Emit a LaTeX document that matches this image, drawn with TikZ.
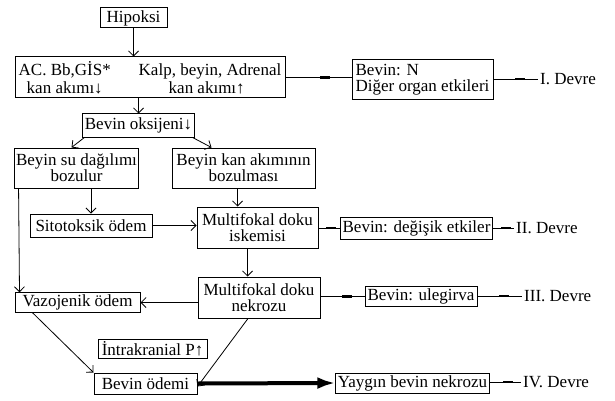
\documentclass[tikz,border=0pt]{standalone}
\usepackage{fontspec}
\setmainfont{Liberation Serif}
\usetikzlibrary{arrows.meta,decorations.markings}

\begin{document}
\begin{tikzpicture}[x=1pt, y=-1pt,
  font=\fontsize{17}{16}\selectfont,
  box/.style={draw, line width=1pt, inner sep=2pt, align=center},
  arr/.style={-{Straight Barb[length=5pt,width=10pt]}, line width=0.8pt},
  devline/.style={line width=0.8pt, postaction={decorate, decoration={markings,
    mark=at position 0.6 with {\fill (-5pt,-1.3pt) rectangle (5pt,1.3pt);}}}},
  devre/.style={inner sep=2pt, anchor=west}]
\useasboundingbox (0,0) rectangle (615,401);

\node[box, minimum width=67pt, minimum height=20pt] (hip) at (133.5,18) {Hipoksi};
\node[box, align=left, minimum width=270pt, minimum height=41pt, inner sep=1pt] (ac) at (150,77.5)
  {\makebox[120pt][l]{AC. Bb,GİS*}Kalp, beyin, Adrenal\\[2pt]
   \hspace{8pt}\makebox[112pt][l]{kan akımı↓}\hspace{30pt}kan akımı↑};
\node[box, align=left, minimum width=141pt, minimum height=40pt] (bn) at (422.5,80) {Bevin: N\\Diğer organ etkileri};
\node[devre] (dev1) at (538,79) {I. Devre};

\node[box, minimum width=105pt, minimum height=23pt] (oks) at (138.5,125.5) {Bevin oksijeni↓};
\node[box, minimum width=123pt, minimum height=40pt] (su) at (76.5,168) {Beyin su dağılımı\\bozulur};
\node[box, minimum width=143pt, minimum height=40pt] (kan) at (243.5,168) {Beyin kan akımının\\bozulması};
\node[box, minimum width=122pt, minimum height=23pt] (sito) at (91,225.5) {Sitotoksik ödem};
\node[box, minimum width=121pt, minimum height=41pt] (isk) at (257.5,227.5) {Multifokal doku\\iskemisi};
\node[box, minimum width=137pt, minimum height=22pt] (deg) at (416.5,228) {Bevin: değişik etkiler};
\node[devre] (dev2) at (514,228) {II. Devre};

\node[box, minimum width=122pt, minimum height=41pt] (nek) at (259,297.5) {Multifokal doku\\nekrozu};
\node[box, minimum width=125pt, minimum height=19pt] (vaz) at (77.5,302.5) {Vazojenik ödem};
\node[box, minimum width=112pt, minimum height=19pt] (ule) at (421,296.5) {Bevin: ulegirva};
\node[devre] (dev3) at (522,296) {III. Devre};

\node[box, minimum width=109pt, minimum height=19pt] (int) at (152.5,348.5) {İntrakranial P↑};
\node[box, minimum width=103pt, minimum height=21pt] (ode) at (145.5,383.5) {Bevin ödemi};
\node[box, minimum width=145pt, minimum height=20pt] (yay) at (412.5,383) {Yaygın bevin nekrozu};
\node[devre] (dev4) at (521,382) {IV. Devre};

\draw[arr] (hip.south) -- (hip.south |- ac.north);
\draw[devline] (ac.east) -- (ac.east -| bn.west);
\draw[devline] (bn.east |- dev1) -- (dev1.west);
\draw[arr] (ac.south -| oks.north) -- (oks.north);
\draw[arr] ([xshift=2pt]oks.south west) -- ([xshift=-5pt]su.north);
\draw[arr] ([xshift=-2pt]oks.south east) -- ([xshift=40pt]kan.north west);
\draw[arr] (su.south -| sito.north) -- (sito.north);
\draw[arr] ([xshift=-6pt]kan.south) -- ([xshift=-6pt]kan.south |- isk.north);
\draw[arr] (sito.east) -- (sito.east -| isk.west);
\draw[devline] (isk.east |- deg) -- (deg.west);
\draw[devline] (deg.east) -- (dev2.west);
\draw[arr] ([xshift=-10pt]isk.south) -- ([xshift=-10pt]isk.south |- nek.north);
\draw[arr] ([xshift=5pt]su.south west) -- ([xshift=5pt]vaz.north west);
\draw[arr] (nek.west |- vaz) -- (vaz.east);
\draw[devline] (nek.east |- ule) -- (ule.west);
\draw[devline] (ule.east |- dev3) -- (dev3.west);
\draw[arr] ([xshift=18pt]vaz.south west) -- (ode.north west);
\draw[arr] ([xshift=-11pt]nek.south) -- ([yshift=-3pt]ode.east);
\draw[-{Latex[length=18pt,width=12pt]}, line width=4pt] (ode.east) -- (yay.west);
\draw[devline] (yay.east |- dev4) -- (dev4.west);
\end{tikzpicture}
\end{document}
